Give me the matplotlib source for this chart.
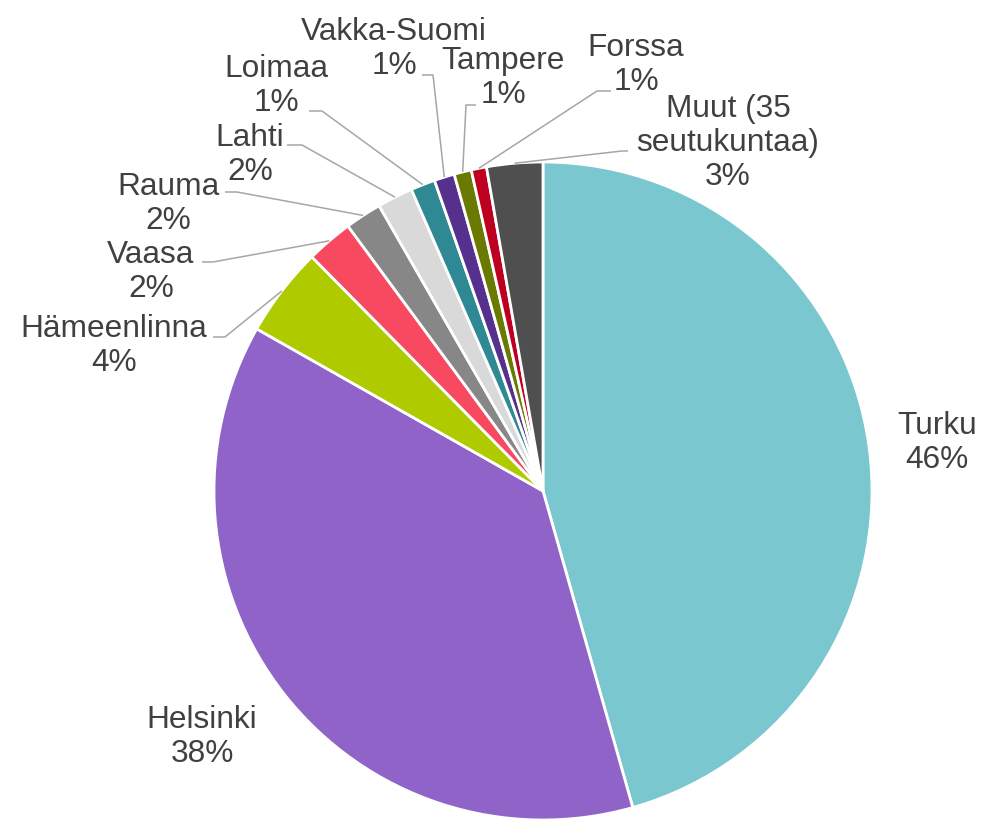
import matplotlib
matplotlib.use("Agg")
import matplotlib.pyplot as plt
import numpy as np

# ---- data ----
regions = ["Turku", "Helsinki", "Hämeenlinna", "Vaasa", "Rauma", "Lahti",
           "Loimaa", "Vakka-Suomi", "Tampere", "Forssa", "Muut (35\nseutukuntaa)"]
shares = [45.6, 37.6, 4.4, 2.3, 1.8, 1.75, 1.2, 1.0, 0.85, 0.75, 2.75]
colors = ["#7AC7D0", "#9063C9", "#AFCB00", "#F7495F", "#878787", "#D9D9D9",
          "#2F8995", "#55308C", "#6A7A00", "#BE0020", "#4F4F4F"]

# ---- layout (pixel positions of labels, leader anchors) ----
W, H = 982, 820
CX, CY, R = 543, 492, 329
label_px = [(937, 443), (202, 737), (114, 346), (151, 272), (168, 204),
            (250, 155), (276, 86), (394, 49), (503, 78), (636, 65), (728, 143)]
# (label end point, elbow point) for leaders; None = no leader
leader_px = [None, None,
             ((213, 338), (225, 338)),
             ((202, 263), (213, 263)),
             ((225, 193), (237, 193)),
             ((287, 146), (302, 146)),
             ((309, 112), (322, 112)),
             ((422, 76), (433, 76)),
             ((476, 106), (466, 106)),
             ((611, 92), (597, 92)),
             ((628, 152), (622, 152))]


def to_data(p):
    return ((p[0] - CX) / R, (CY - p[1]) / R)


fig = plt.figure(figsize=(W / 100, H / 100), dpi=100)
ax = fig.add_axes([0, 0, 1, 1])

wedges, _ = ax.pie(shares, colors=colors, startangle=90, counterclock=False,
                   radius=1.0, wedgeprops=dict(edgecolor="white", linewidth=2.0))
ax.set_xlim(-CX / R, (W - CX) / R)
ax.set_ylim(-(H - CY) / R, CY / R)
ax.set_aspect("equal")
ax.axis("off")

txt_color = "#404040"
for name, v, w, lp, ld in zip(regions, shares, wedges, label_px, leader_px):
    x, y = to_data(lp)
    ax.text(x, y, f"{name}\n{v:.0f}%", ha="center", va="center",
            fontsize=22.8, color=txt_color, family=["Liberation Sans", "DejaVu Sans"],
            linespacing=1.16)
    if ld is not None:
        mid = np.deg2rad((w.theta1 + w.theta2) / 2)
        ex, ey = np.cos(mid), np.sin(mid)
        p0 = to_data(ld[0])
        p1 = to_data(ld[1])
        ax.plot([p0[0], p1[0], ex], [p0[1], p1[1], ey], color="#A6A6A6",
                linewidth=1.1, solid_capstyle="butt")

fig.savefig("out.png", dpi=100)
